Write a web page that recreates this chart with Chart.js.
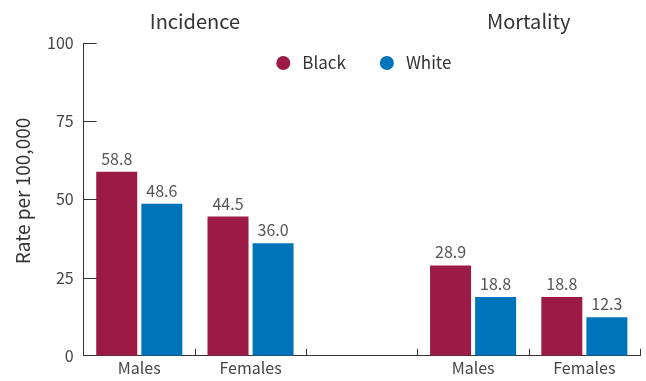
<!DOCTYPE html>
<html>
<head>
<meta charset="utf-8">
<script src="https://cdn.jsdelivr.net/npm/chart.js@4.4.0/dist/chart.umd.min.js"></script>
<style>
  html, body { margin: 0; padding: 0; background: #fff; }
  #wrap { width: 646px; height: 381px; }
</style>
</head>
<body>
<div id="wrap"><canvas id="barChart" width="646" height="381"></canvas></div>
<script>
// data
var categories = ['Males', 'Females', '', 'Males', 'Females'];
var groupTitles = ['Incidence', 'Mortality'];
var blackRates = [58.8, 44.5, null, 28.9, 18.8];
var whiteRates = [48.6, 36.0, null, 18.8, 12.3];
var yTicks = [0, 25, 50, 75, 100];
var yTitle = 'Rate per 100,000';

var FONT = '"Noto Sans CJK KR", "Noto Sans", sans-serif';

// ticks pointing into the plot, titles, legend, value labels
var extras = {
    id: 'extras',
    afterDraw: function (chart) {
        var ctx = chart.ctx;
        var x = chart.scales.x, y = chart.scales.y;
        var area = chart.chartArea;
        ctx.save();
        ctx.strokeStyle = '#333';
        ctx.lineWidth = 1;
        yTicks.forEach(function (v) {
            if (v === 0) return;
            var py = Math.round(y.getPixelForValue(v)) + 0.5;
            ctx.beginPath();
            ctx.moveTo(area.left, py);
            ctx.lineTo(area.left + 13, py);
            ctx.stroke();
        });
        for (var i = 1; i <= categories.length; i++) {
            var px = Math.round(x.getPixelForValue(i - 0.5)) + 0.5;
            ctx.beginPath();
            ctx.moveTo(px, area.bottom);
            ctx.lineTo(px, area.bottom - 7);
            ctx.stroke();
        }
        // group titles
        ctx.fillStyle = '#333';
        ctx.font = '20px ' + FONT;
        ctx.textAlign = 'center';
        ctx.textBaseline = 'middle';
        ctx.fillText(groupTitles[0], x.getPixelForValue(0.5), 21);
        ctx.fillText(groupTitles[1], x.getPixelForValue(3.5), 21);

        // y axis title
        ctx.save();
        ctx.translate(23, 191);
        ctx.rotate(-Math.PI / 2);
        ctx.font = '19px ' + FONT;
        ctx.fillText(yTitle, 0, 0);
        ctx.restore();

        // legend, centred over the plot
        ctx.font = '17px ' + FONT;
        ctx.textAlign = 'left';
        var items = chart.data.datasets.map(function (ds) {
            return { text: ds.label, color: ds.backgroundColor, w: ctx.measureText(ds.label).width };
        });
        var gap = 34, r = 7, textGap = 12;
        var total = 0;
        items.forEach(function (it, k) { total += r * 2 + textGap + it.w + (k ? gap : 0); });
        var lx = (area.left + area.right) / 2 - total / 2 + 2;
        var ly = 63;
        items.forEach(function (it) {
            ctx.fillStyle = it.color;
            ctx.beginPath();
            ctx.arc(lx + r, ly, r, 0, Math.PI * 2);
            ctx.fill();
            ctx.fillStyle = '#333';
            ctx.fillText(it.text, lx + r * 2 + textGap, ly);
            lx += r * 2 + textGap + it.w + gap;
        });

        // value labels
        ctx.fillStyle = '#555';
        ctx.font = '16px ' + FONT;
        ctx.textAlign = 'center';
        ctx.textBaseline = 'bottom';
        chart.data.datasets.forEach(function (ds, di) {
            chart.getDatasetMeta(di).data.forEach(function (bar, j) {
                if (ds.data[j] == null) return;
                ctx.fillText(ds.data[j].toFixed(1), bar.x, bar.y - 5);
            });
        });
        ctx.restore();
    }
};

new Chart(document.querySelector('#barChart'), {
    type: 'bar',
    data: {
        labels: categories,
        datasets: [{
            label: 'Black',
            data: blackRates,
            backgroundColor: '#9b1b46',
            borderWidth: 0
        }, {
            label: 'White',
            data: whiteRates,
            backgroundColor: '#0074bb',
            borderWidth: 0
        }]
    },
    options: {
        responsive: false,
        animation: false,
        devicePixelRatio: 1,
        categoryPercentage: 0.81,
        barPercentage: 0.91,
        layout: { padding: { top: 43, right: 6, left: 37, bottom: 0 } },
        plugins: {
            tooltip: { enabled: false },
            legend: { display: false }
        },
        scales: {
            x: {
                grid: { display: false, drawTicks: false },
                border: { color: '#333', width: 1 },
                ticks: {
                    color: '#444',
                    padding: 3,
                    font: { family: FONT, size: 16 }
                }
            },
            y: {
                min: 0,
                max: 100,
                afterBuildTicks: function (axis) {
                    axis.ticks = yTicks.map(function (v) { return { value: v }; });
                },
                grid: { display: false, drawTicks: false },
                border: { color: '#333', width: 1 },
                ticks: {
                    color: '#444',
                    padding: 10,
                    font: { family: FONT, size: 16 }
                }
            }
        }
    },
    plugins: [extras]
});
</script>
</body>
</html>
